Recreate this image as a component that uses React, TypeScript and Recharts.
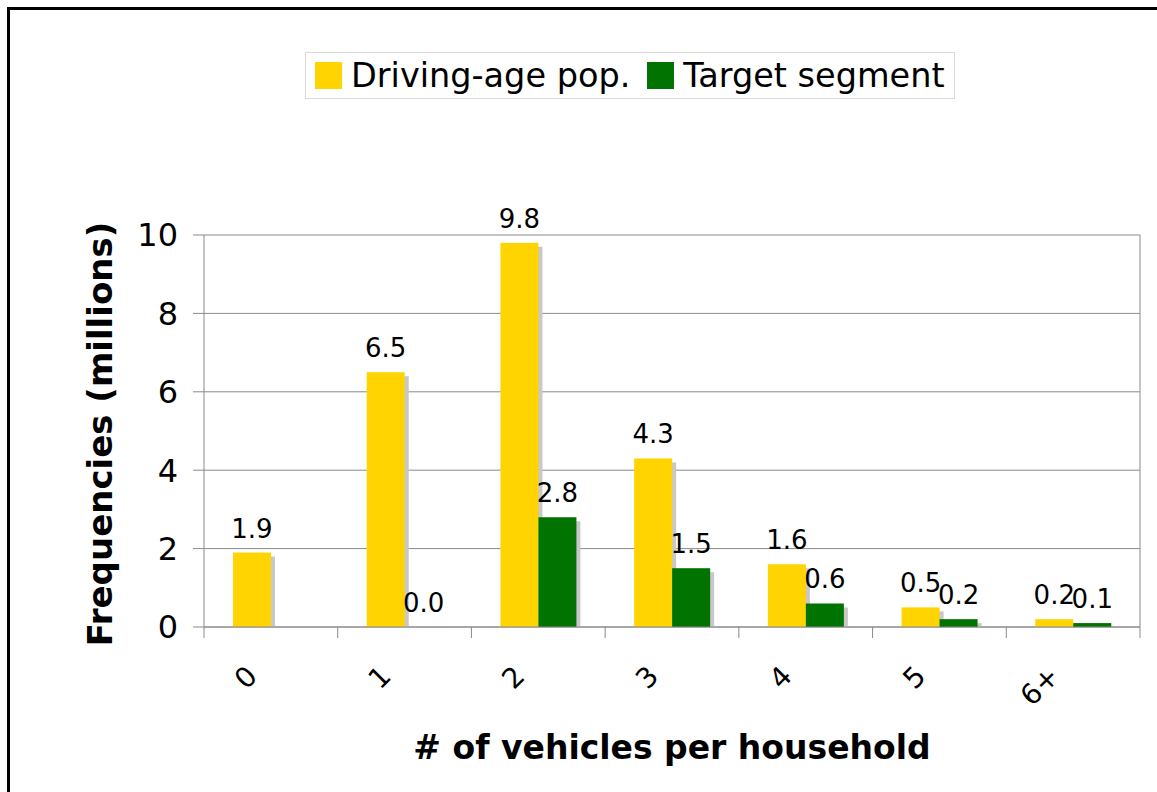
import React from 'react';
import { BarChart, Bar, XAxis, YAxis, CartesianGrid, Legend, LabelList, Label } from 'recharts';

const categories = ['0', '1', '2', '3', '4', '5', '6+'];
const drivingAgePop = [1.9, 6.5, 9.8, 4.3, 1.6, 0.5, 0.2];
const targetSegment: (number | null)[] = [null, 0.0, 2.8, 1.5, 0.6, 0.2, 0.1];
const yTicks = [0, 2, 4, 6, 8, 10];

const data = categories.map((c, i) => ({
  vehicles: c,
  pop: drivingAgePop[i],
  target: targetSegment[i],
}));

const W = 1157;
const H = 792;
const MARGIN = { top: 235, right: 17, bottom: 40, left: 80 };
const Y_AXIS_W = 124;
const X_AXIS_H = 125;
const PLOT_W = W - MARGIN.left - Y_AXIS_W - MARGIN.right;
const BAND = PLOT_W / categories.length;
const GRID = '#8a8a8a';
const FONT = '"DejaVu Sans", Verdana, sans-serif';

const ShadowBar = (props: any) => {
  const { x, y, width, height, fill } = props;
  if (!height || height <= 0) return null;
  return (
    <g>
      {height > 4 && <rect x={x + 4} y={y + 4} width={width} height={height - 4} fill="#c8c8c8" />}
      <rect x={x} y={y} width={width} height={height} fill={fill} />
    </g>
  );
};

const XTick = (props: any) => {
  const { x, y, payload, index } = props;
  const half = BAND / 2;
  const ax = x - 12;
  const ay = y + 51;
  return (
    <g>
      <line x1={x - half} y1={y} x2={x - half} y2={y + 11} stroke={GRID} />
      {index === categories.length - 1 && (
        <line x1={x + half} y1={y} x2={x + half} y2={y + 11} stroke={GRID} />
      )}
      <text x={ax} y={ay} transform={`rotate(-45 ${ax} ${ay})`} textAnchor="end" fontSize={28} fill="#000">
        {payload.value}
      </text>
    </g>
  );
};

const renderLegend = (props: any) => {
  const items = props.payload || [];
  return (
    <div
      style={{
        display: 'flex',
        alignItems: 'center',
        boxSizing: 'border-box',
        width: 650,
        height: 47,
        border: '1px solid #d9d9d9',
        paddingLeft: 9,
        fontSize: 33.5,
        lineHeight: 1,
        color: '#000',
        background: '#fff',
      }}
    >
      {items.map((it: any, i: number) => (
        <div key={i} style={{ display: 'flex', alignItems: 'center', marginLeft: i === 0 ? 0 : 17 }}>
          <span style={{ display: 'inline-block', width: 27, height: 27, background: it.color }} />
          <span style={{ marginLeft: 9 }}>{it.value}</span>
        </div>
      ))}
    </div>
  );
};

const fmt = (v: any) => (v === null || v === undefined ? '' : Number(v).toFixed(1));

export default function App() {
  return (
    <div style={{ position: 'absolute', left: 0, top: 0, width: W, height: H, overflow: 'hidden', background: '#fff', fontFamily: FONT }}>
      <div style={{ position: 'absolute', left: 7, top: 7, width: W + 40, height: H + 40, border: '3px solid #000' }} />
      <div style={{ position: 'absolute', left: 0, top: 0 }}>
        <BarChart width={W} height={H} data={data} margin={MARGIN} barGap={0} barSize={38}>
          <CartesianGrid
            stroke={GRID}
            vertical={true}
            verticalPoints={[MARGIN.left + Y_AXIS_W + PLOT_W]}
          />
          <XAxis
            dataKey="vehicles"
            height={X_AXIS_H}
            axisLine={{ stroke: GRID }}
            tickLine={false}
            tickSize={0}
            tickMargin={0}
            interval={0}
            tick={<XTick />}
          >
            <Label
              content={(p: any) => {
                const vb = p.viewBox;
                return (
                  <text
                    x={vb.x + vb.width / 2}
                    y={vb.y + 120}
                    textAnchor="middle"
                    dominantBaseline="central"
                    fontSize={33}
                    fontWeight="bold"
                    fill="#000"
                  >
                    # of vehicles per household
                  </text>
                );
              }}
            />
          </XAxis>
          <YAxis
            width={Y_AXIS_W}
            domain={[0, 10]}
            ticks={yTicks}
            interval={0}
            axisLine={{ stroke: GRID }}
            tickLine={{ stroke: GRID }}
            tickSize={11}
            tickMargin={15}
            tick={{ fontSize: 32, fill: '#000' }}
          >
            <Label
              content={(p: any) => {
                const vb = p.viewBox;
                const cx = vb.x + 32;
                const cy = vb.y + vb.height / 2 + 3;
                return (
                  <text
                    x={cx}
                    y={cy}
                    transform={`rotate(-90 ${cx} ${cy})`}
                    textAnchor="middle"
                    fontSize={34}
                    fontWeight="bold"
                    fill="#000"
                  >
                    Frequencies (millions)
                  </text>
                );
              }}
            />
          </YAxis>
          <Legend
            layout="horizontal"
            verticalAlign="middle"
            align="center"
            content={renderLegend}
            wrapperStyle={{ top: 52, left: 305, width: 650, height: 47 }}
          />
          <Bar dataKey="pop" name="Driving-age pop." fill="#FFD400" shape={<ShadowBar />} isAnimationActive={false}>
            <LabelList dataKey="pop" position="top" offset={15} fontSize={26} fill="#000" formatter={fmt} />
          </Bar>
          <Bar dataKey="target" name="Target segment" fill="#007300" shape={<ShadowBar />} isAnimationActive={false}>
            <LabelList dataKey="target" position="top" offset={15} fontSize={26} fill="#000" formatter={fmt} />
          </Bar>
        </BarChart>
      </div>
    </div>
  );
}
